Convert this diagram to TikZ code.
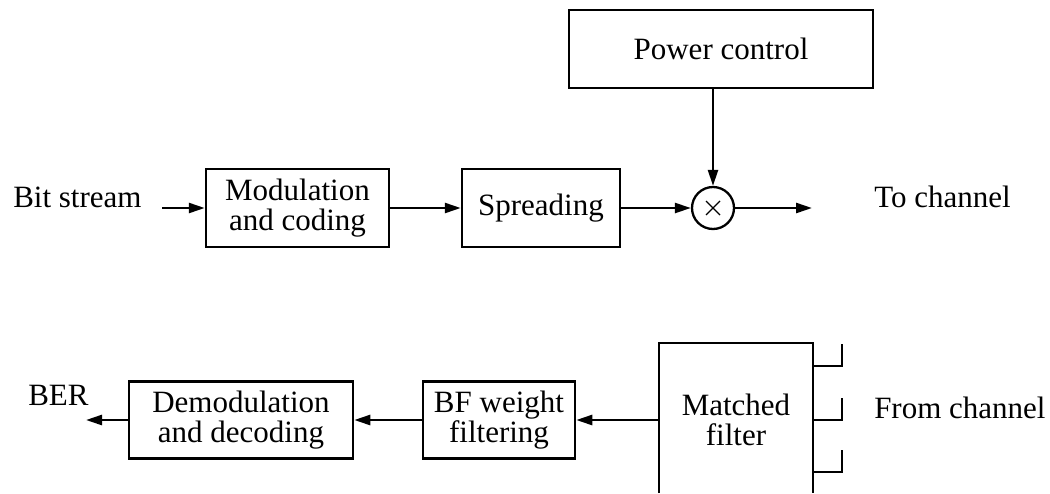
\documentclass[tikz,border=0pt]{standalone}
\usepackage{fontspec}
\setmainfont{Liberation Serif}
\usetikzlibrary{arrows.meta,calc}

\begin{document}
\begin{tikzpicture}[x=1pt,y=-1pt,
  line width=2.5pt,
  every node/.style={inner sep=0pt, align=center,
    font=\fontsize{31}{30}\selectfont},
  blk/.style={draw, line width=2.5pt},
  arr/.style={-{Triangle[length=16pt,width=10pt]}, line width=2.5pt},
  lbl/.style={anchor=base west}]
\useasboundingbox (0,0) rectangle (1050,493);

% transmitter chain
\node[blk, minimum width=304pt, minimum height=78pt] (pc) at (721,49) {Power control};
\node[blk, minimum width=183pt, minimum height=78pt] (mod) at (297.5,208) {Modulation\\and coding};
\node[blk, minimum width=158pt, minimum height=78pt] (spr) at (541,208) {Spreading};
\node[draw, circle, minimum size=42pt, line width=2.3pt] (mul) at (713,208) {};
\draw[line width=1.3pt] ($(mul.center)+(-7,-7)$) -- ($(mul.center)+(7,7)$)
                        ($(mul.center)+(-7,7)$) -- ($(mul.center)+(7,-7)$);

\node[lbl] (bs) at (12,207) {Bit stream};
\node[lbl] (tc) at (873,207) {To channel};
\coordinate (bsin) at (162,208);
\coordinate (txout) at (812,208);

\draw[arr] (bsin) -- (mod);
\draw[arr] (mod) -- (spr);
\draw[arr] (spr) -- (mul);
\draw[arr] (pc.south -| mul.north) -- (mul);
\draw[arr] (mul) -- (txout);

% receiver chain
\node[blk, minimum width=224pt, minimum height=77pt] (dem) at (241,420) {Demodulation\\and decoding};
\node[blk, minimum width=152pt, minimum height=77pt] (bf) at (499,420) {BF weight\\filtering};
\node[minimum width=154pt, minimum height=100pt] (mf) at (736,420) {Matched\\filter};
\draw (659,493) -- (659,343) -- (813,343) -- (813,493);

% antenna branches
\draw (813,366) -- (842,366) -- (842,344);
\draw (813,420) -- (842,420) -- (842,398);
\draw (813,472) -- (842,472) -- (842,450);

\node[lbl] (ber) at (27,405) {BER};
\node[lbl] (fc) at (873,418) {From channel};
\coordinate (berout) at (86,420);

\draw[arr] (mf.west) -- (bf);
\draw[arr] (bf) -- (dem);
\draw[arr] (dem) -- (berout);
\end{tikzpicture}
\end{document}
